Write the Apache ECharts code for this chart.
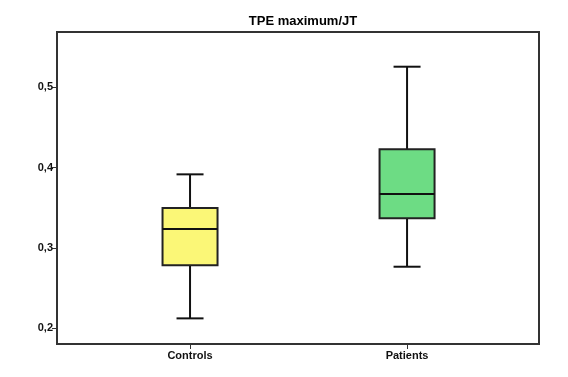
<!DOCTYPE html>
<html style="height: 100%">
   <head>
       <meta charset="utf-8">
   </head>
   <body style="height: 100%; margin: 0">
       <div id="container" style="width: 568px; height: 377px"></div>
       <script type="text/javascript" src="https://cdn.jsdelivr.net/npm/echarts@6/dist/echarts.min.js"></script>
       <script type="text/javascript">
            // groups and their box stats: min, q1, median, q3, max
            var groups = ['Controls', 'Patients'];
            var controls = [0.2124, 0.2784, 0.3236, 0.3498, 0.3917];
            var patients = [0.2767, 0.3369, 0.3672, 0.4228, 0.5257];
            var boxColors = ['#fbf777', '#6ddc84'];
            var yTicks = [0.2, 0.3, 0.4, 0.5];

            var dom = document.getElementById("container");
            var myChart = echarts.init(dom);

            var seriesData = [[0].concat(controls), [1].concat(patients)];

            function renderItem(params, api) {
                var x = api.value(0);
                var lo = api.coord([x, api.value(1)]);
                var q1 = api.coord([x, api.value(2)]);
                var med = api.coord([x, api.value(3)]);
                var q3 = api.coord([x, api.value(4)]);
                var hi = api.coord([x, api.value(5)]);
                var cx = lo[0];
                var half = 27.5, cap = 13.5;
                var lineStyle = {stroke: '#111', lineWidth: 2};
                return {
                    type: 'group',
                    children: [
                        {type: 'line', shape: {x1: cx, y1: hi[1], x2: cx, y2: q3[1]}, style: lineStyle},
                        {type: 'line', shape: {x1: cx, y1: q1[1], x2: cx, y2: lo[1]}, style: lineStyle},
                        {type: 'line', shape: {x1: cx - cap, y1: hi[1], x2: cx + cap, y2: hi[1]}, style: lineStyle},
                        {type: 'line', shape: {x1: cx - cap, y1: lo[1], x2: cx + cap, y2: lo[1]}, style: lineStyle},
                        {type: 'rect', shape: {x: cx - half, y: q3[1], width: half * 2, height: q1[1] - q3[1]},
                            style: {fill: boxColors[params.dataIndex], stroke: '#222', lineWidth: 2}},
                        {type: 'line', shape: {x1: cx - half, y1: med[1], x2: cx + half, y2: med[1]}, style: lineStyle}
                    ]
                };
            }

            var option = {
                animation: false,
                backgroundColor: '#fff',
                title: {
                    text: 'TPE maximum/JT',
                    left: 298,
                    textAlign: 'center',
                    top: 10,
                    textStyle: {fontFamily: 'Liberation Sans', fontSize: 13, fontWeight: 'bold', color: '#000'}
                },
                grid: {
                    left: 57, right: 29, top: 32, bottom: 33,
                    show: true,
                    borderColor: '#333',
                    borderWidth: 2
                },
                xAxis: {
                    type: 'value',
                    min: -0.613,
                    max: 1.608,
                    splitLine: {show: false},
                    axisLine: {onZero: false, lineStyle: {color: '#333', width: 2}},
                    axisTick: {customValues: [0, 1], length: 5, lineStyle: {color: '#333'}},
                    axisLabel: {
                        customValues: [0, 1],
                        formatter: function (v) { return groups[Math.round(v)]; },
                        fontFamily: 'Liberation Sans', fontSize: 11, fontWeight: 'bold', color: '#111', margin: 6
                    }
                },
                yAxis: {
                    type: 'value',
                    min: 0.1805,
                    max: 0.5689,
                    splitLine: {show: false},
                    axisLine: {show: true, onZero: false, lineStyle: {color: '#333', width: 2}},
                    axisTick: {show: true, customValues: yTicks, length: 5, lineStyle: {color: '#333'}},
                    axisLabel: {
                        customValues: yTicks,
                        formatter: function (v) { return v.toFixed(1).replace('.', ','); },
                        fontFamily: 'Liberation Sans', fontSize: 11, fontWeight: 'bold', color: '#111', margin: 4
                    }
                },
                series: [{
                    type: 'custom',
                    renderItem: renderItem,
                    encode: {x: 0, y: [1, 2, 3, 4, 5]},
                    data: seriesData
                }]
            };

            myChart.setOption(option);
       </script>
   </body>
</html>
